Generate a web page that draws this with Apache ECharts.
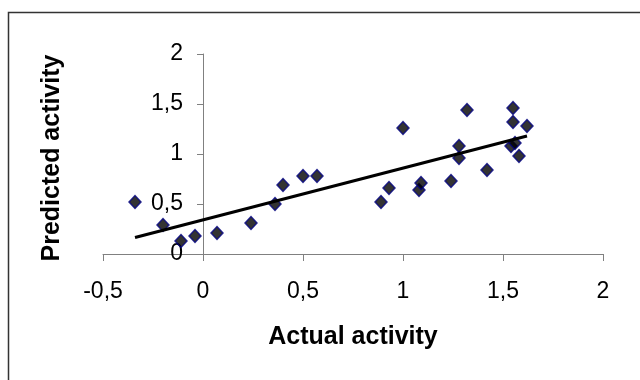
<!DOCTYPE html>
<html>
<head>
<meta charset="utf-8">
<script src="https://cdn.jsdelivr.net/npm/echarts@6/dist/echarts.min.js"></script>
<style>html,body{margin:0;padding:0;background:#fff;}#c{width:640px;height:380px;}</style>
</head>
<body>
<div id="c"></div>
<script>
const actual = [-0.34,-0.20,-0.11,-0.04,0.07,0.24,0.36,0.40,0.50,0.57,0.89,0.93,1.00,1.08,1.09,1.24,1.28,1.28,1.32,1.42,1.55,1.55,1.54,1.56,1.58,1.62];
const predicted = [0.52,0.29,0.13,0.18,0.21,0.31,0.50,0.69,0.78,0.78,0.52,0.66,1.26,0.64,0.71,0.73,0.96,1.08,1.44,0.84,1.46,1.32,1.08,1.11,0.98,1.28];
const xTitle = 'Actual activity';
const yTitle = 'Predicted activity';

const pts = actual.map((x, i) => [x, predicted[i]]);
// least-squares trend line computed from the data
const n = actual.length;
const mx = actual.reduce((a, b) => a + b, 0) / n;
const my = predicted.reduce((a, b) => a + b, 0) / n;
let sxy = 0, sxx = 0;
for (let i = 0; i < n; i++) { sxy += (actual[i] - mx) * (predicted[i] - my); sxx += (actual[i] - mx) ** 2; }
const slope = sxy / sxx, icpt = my - slope * mx;
const xMin = Math.min(...actual), xMax = Math.max(...actual);
const trend = [[xMin, icpt + slope * xMin], [xMax, icpt + slope * xMax]];

const fmt = v => String(v).replace('.', ',');
const FONT = '"Liberation Sans", Arial, sans-serif';

const chart = echarts.init(document.getElementById('c'), null, {renderer: 'canvas'});
chart.setOption({
  animation: false,
  backgroundColor: '#fff',
  grid: {left: 103, top: 54, width: 500, height: 200},
  xAxis: {
    type: 'value', min: -0.5, max: 2, interval: 0.5,
    splitLine: {show: false},
    axisLine: {onZero: false, lineStyle: {color: '#808080', width: 1}},
    axisTick: {show: true, length: 7, lineStyle: {color: '#808080'}},
    axisLabel: {formatter: fmt, color: '#000', fontFamily: FONT, fontSize: 23, margin: 26}
  },
  yAxis: {
    type: 'value', min: 0, max: 2, interval: 0.5,
    offset: -100,
    splitLine: {show: false},
    axisLine: {onZero: false, lineStyle: {color: '#808080', width: 1}},
    axisTick: {show: true, length: 6, lineStyle: {color: '#808080'}},
    axisLabel: {formatter: fmt, color: '#000', fontFamily: FONT, fontSize: 23, margin: 20}
  },
  graphic: [
    {type: 'rect', shape: {x: 8.5, y: 12.5, width: 700, height: 420}, style: {fill: 'none', stroke: '#333', lineWidth: 1.5}, silent: true},
    {type: 'text', x: 353, y: 337, style: {text: xTitle, font: 'bold 25px ' + FONT, fill: '#000', textAlign: 'center', textVerticalAlign: 'middle'}},
    {type: 'text', x: 52, y: 158, rotation: Math.PI / 2, style: {text: yTitle, font: 'bold 25px ' + FONT, fill: '#000', textAlign: 'center', textVerticalAlign: 'middle'}}
  ],
  series: [
    {
      type: 'scatter', data: pts, symbol: 'diamond', symbolSize: [12, 13],
      itemStyle: {color: '#000', borderColor: '#000080', borderWidth: 1.5}, z: 3
    },
    {
      type: 'line', data: trend, showSymbol: false, symbol: 'none',
      lineStyle: {color: '#000', width: 3}, z: 4
    }
  ]
});
</script>
</body>
</html>
